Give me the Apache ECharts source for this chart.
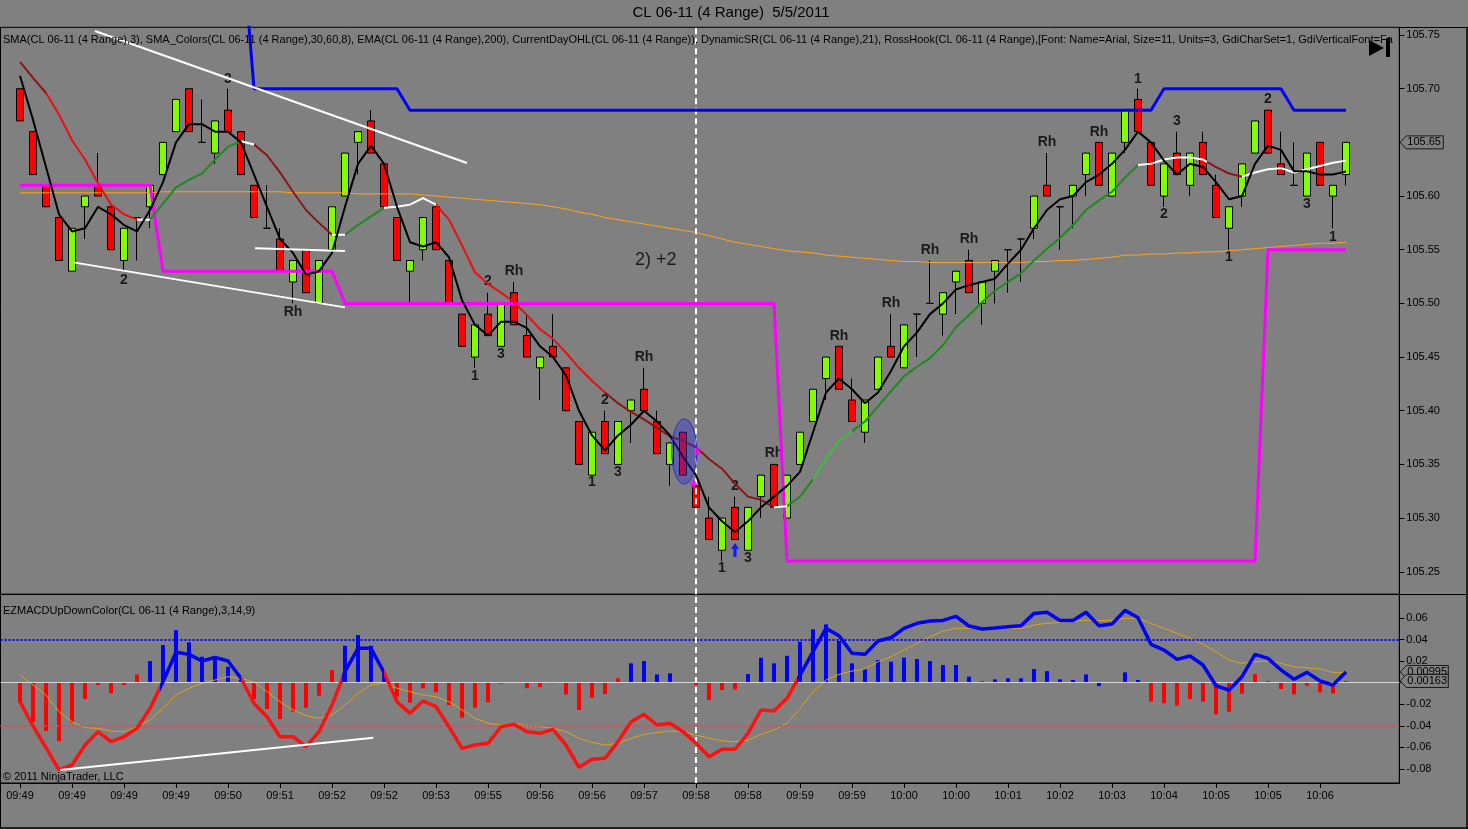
<!DOCTYPE html>
<html><head><meta charset="utf-8">
<script src="https://cdn.jsdelivr.net/npm/echarts@6/dist/echarts.min.js"></script>
<style>html,body{margin:0;padding:0;background:#808080;overflow:hidden}#c{width:1468px;height:829px}</style>
</head><body><div id="c"></div>
<script>
// ---------- data ----------
const tickLabels = ['09:49','09:49','09:49','09:49','09:50','09:51','09:52','09:52','09:53','09:55','09:56','09:56','09:57','09:58','09:58','09:59','09:59','10:00','10:00','10:01','10:02','10:03','10:04','10:05','10:05','10:06'];
const priceTicks = [105.25,105.30,105.35,105.40,105.45,105.50,105.55,105.60,105.65,105.70,105.75];
const macdTicks = [-0.08,-0.06,-0.04,-0.02,0,0.02,0.04,0.06];
const macdTickLabels = [-0.08,-0.06,-0.04,-0.02,0.02,0.04,0.06];

const opens = [105.70,105.66,105.61,105.58,105.53,105.59,105.61,105.59,105.54,105.58,
105.59,105.62,105.66,105.70,105.65,105.64,105.68,105.66,105.61,105.57,
105.56,105.52,105.55,105.50,105.55,105.60,105.65,105.67,105.63,105.58,
105.53,105.55,105.59,105.54,105.49,105.45,105.49,105.46,105.51,105.47,
105.44,105.46,105.44,105.39,105.34,105.39,105.35,105.40,105.42,105.39,
105.35,105.38,105.33,105.30,105.27,105.31,105.27,105.32,105.35,105.30,
105.35,105.39,105.43,105.46,105.41,105.38,105.42,105.46,105.44,105.49,
105.50,105.49,105.52,105.54,105.50,105.53,105.55,105.56,105.57,105.61,
105.59,105.60,105.62,105.65,105.60,105.65,105.69,105.65,105.60,105.64,
105.61,105.65,105.61,105.57,105.60,105.64,105.68,105.63,105.61,105.60,
105.65,105.60,105.62];
const closes = [105.67,105.62,105.59,105.54,105.57,105.60,105.60,105.55,105.57,105.58,
105.61,105.65,105.69,105.66,105.65,105.67,105.66,105.62,105.58,105.57,
105.53,105.54,105.51,105.54,105.59,105.64,105.66,105.64,105.59,105.54,
105.54,105.58,105.55,105.50,105.46,105.48,105.47,105.50,105.48,105.45,
105.45,105.45,105.40,105.35,105.38,105.36,105.39,105.41,105.40,105.36,
105.37,105.34,105.31,105.28,105.30,105.28,105.31,105.34,105.31,105.34,
105.38,105.42,105.45,105.42,105.39,105.41,105.45,105.45,105.48,105.49,
105.50,105.51,105.53,105.51,105.52,105.54,105.55,105.56,105.60,105.60,
105.59,105.61,105.64,105.61,105.64,105.68,105.66,105.61,105.63,105.62,
105.64,105.62,105.58,105.59,105.63,105.67,105.64,105.62,105.61,105.64,
105.61,105.61,105.65];
const lows = [105.67,105.62,105.59,105.54,105.53,105.56,105.60,105.55,105.53,105.54,
105.57,105.62,105.66,105.66,105.65,105.63,105.66,105.62,105.58,105.57,
105.53,105.50,105.51,105.50,105.55,105.60,105.62,105.64,105.59,105.54,
105.50,105.54,105.55,105.50,105.46,105.44,105.47,105.46,105.48,105.45,
105.41,105.45,105.40,105.35,105.34,105.36,105.35,105.37,105.40,105.36,
105.33,105.34,105.31,105.28,105.26,105.28,105.27,105.30,105.31,105.30,
105.35,105.39,105.41,105.42,105.39,105.37,105.42,105.45,105.44,105.45,
105.50,105.47,105.49,105.51,105.48,105.50,105.51,105.52,105.56,105.60,
105.55,105.57,105.60,105.61,105.60,105.64,105.66,105.61,105.59,105.62,
105.60,105.62,105.58,105.55,105.59,105.64,105.64,105.62,105.61,105.60,
105.61,105.57,105.61];
const highs = [105.70,105.66,105.61,105.58,105.57,105.60,105.64,105.59,105.57,105.58,
105.61,105.65,105.69,105.70,105.69,105.67,105.70,105.66,105.61,105.61,
105.57,105.54,105.55,105.54,105.59,105.64,105.66,105.68,105.63,105.58,
105.54,105.58,105.59,105.54,105.49,105.48,105.51,105.50,105.52,105.49,
105.45,105.49,105.44,105.39,105.38,105.40,105.39,105.41,105.44,105.40,
105.37,105.38,105.33,105.32,105.30,105.32,105.31,105.34,105.35,105.34,
105.38,105.42,105.45,105.46,105.43,105.41,105.45,105.49,105.48,105.49,
105.54,105.51,105.53,105.55,105.52,105.54,105.55,105.56,105.60,105.64,
105.59,105.61,105.64,105.65,105.64,105.68,105.70,105.65,105.63,105.66,
105.64,105.66,105.62,105.59,105.63,105.67,105.68,105.66,105.65,105.64,
105.65,105.61,105.65];

const sma3 = [105.712,105.671,105.627,105.583,105.567,105.570,105.590,105.583,105.573,105.567,
105.587,105.613,105.650,105.667,105.667,105.660,105.660,105.650,105.620,105.590,
105.560,105.547,105.527,105.530,105.547,105.590,105.630,105.647,105.630,105.590,
105.557,105.553,105.557,105.543,105.503,105.480,105.470,105.483,105.483,105.477,
105.460,105.450,105.433,105.400,105.377,105.363,105.377,105.387,105.400,105.390,
105.377,105.357,105.340,105.310,105.297,105.287,105.297,105.310,105.320,105.330,
105.343,105.380,105.417,105.430,105.420,105.407,105.417,105.437,105.460,105.473,
105.490,105.500,105.513,105.517,105.520,105.523,105.537,105.550,105.570,105.587,
105.597,105.600,105.613,105.620,105.630,105.643,105.660,105.650,105.633,105.620,
105.630,105.627,105.613,105.597,105.600,105.630,105.647,105.643,105.623,105.623,
105.620,105.620,105.623];

const smaColors = [105.725,105.710,105.696,105.676,105.652,105.634,105.612,105.592,105.583,105.578,
105.578,105.593,105.608,105.615,105.621,105.634,105.646,105.651,105.648,105.638,
105.622,105.604,105.587,105.575,105.564,105.564,105.573,105.581,105.589,105.590,
105.592,105.598,105.592,105.578,105.554,105.529,105.518,105.510,105.501,105.489,
105.476,105.467,105.454,105.440,105.428,105.417,105.407,105.399,105.392,105.384,
105.376,105.372,105.366,105.355,105.346,105.332,105.320,105.317,105.310,105.311,
105.320,105.336,105.355,105.372,105.381,105.390,105.404,105.418,105.432,105.441,
105.449,105.461,105.478,105.489,105.501,105.512,105.520,105.528,105.540,105.551,
105.561,105.573,105.587,105.596,105.604,105.617,105.629,105.630,105.634,105.636,
105.636,105.634,105.627,105.621,105.618,105.622,105.625,105.626,105.622,105.625,
105.628,105.631,105.633];

const ema200 = [105.603,105.603,105.603,105.603,105.603,105.603,105.603,105.603,105.603,105.603,
105.603,105.604,105.604,105.604,105.604,105.604,105.604,105.604,105.604,105.604,
105.604,105.603,105.603,105.603,105.603,105.603,105.602,105.602,105.602,105.602,
105.602,105.601,105.600,105.599,105.598,105.597,105.596,105.595,105.594,105.593,
105.592,105.590,105.588,105.585,105.583,105.580,105.578,105.576,105.574,105.572,
105.570,105.568,105.566,105.563,105.560,105.557,105.555,105.553,105.551,105.549,
105.548,105.547,105.545,105.544,105.543,105.542,105.541,105.540,105.539,105.539,
105.538,105.538,105.538,105.538,105.538,105.538,105.538,105.538,105.539,105.539,
105.540,105.540,105.541,105.542,105.543,105.545,105.545,105.546,105.546,105.547,
105.547,105.548,105.548,105.549,105.550,105.551,105.552,105.553,105.554,105.555,
105.556,105.556,105.557];

const resistance = [null,null,null,null,null,null,null,null,null,null,
null,null,null,null,null,null,null,105.85,105.70,105.70,
105.70,105.70,105.70,105.70,105.70,105.70,105.70,105.70,105.70,105.70,
105.68,105.68,105.68,105.68,105.68,105.68,105.68,105.68,105.68,105.68,
105.68,105.68,105.68,105.68,105.68,105.68,105.68,105.68,105.68,105.68,
105.68,105.68,105.68,105.68,105.68,105.68,105.68,105.68,105.68,105.68,
105.68,105.68,105.68,105.68,105.68,105.68,105.68,105.68,105.68,105.68,
105.68,105.68,105.68,105.68,105.68,105.68,105.68,105.68,105.68,105.68,
105.68,105.68,105.68,105.68,105.68,105.68,105.68,105.68,105.70,105.70,
105.70,105.70,105.70,105.70,105.70,105.70,105.70,105.70,105.68,105.68,
105.68,105.68,105.68];
const support = [105.61,105.61,105.61,105.61,105.61,105.61,105.61,105.61,105.61,105.61,
105.61,105.53,105.53,105.53,105.53,105.53,105.53,105.53,105.53,105.53,
105.53,105.53,105.53,105.53,105.53,105.50,105.50,105.50,105.50,105.50,
105.50,105.50,105.50,105.50,105.50,105.50,105.50,105.50,105.50,105.50,
105.50,105.50,105.50,105.50,105.50,105.50,105.50,105.50,105.50,105.50,
105.50,105.50,105.50,105.50,105.50,105.50,105.50,105.50,105.50,105.26,
105.26,105.26,105.26,105.26,105.26,105.26,105.26,105.26,105.26,105.26,
105.26,105.26,105.26,105.26,105.26,105.26,105.26,105.26,105.26,105.26,
105.26,105.26,105.26,105.26,105.26,105.26,105.26,105.26,105.26,105.26,
105.26,105.26,105.26,105.26,105.26,105.26,105.55,105.55,105.55,105.55,
105.55,105.55,105.55];

const macdLine = [-0.0176,-0.0401,-0.0603,-0.0809,-0.0763,-0.0578,-0.0454,-0.0547,-0.0501,-0.0423,
-0.0238,0.0009,0.0282,0.0263,0.0201,0.0235,0.0201,0.0041,-0.0191,-0.0315,
-0.0501,-0.0501,-0.0593,-0.0454,-0.0207,0.0102,0.0319,0.0319,0.0096,-0.0176,
-0.0284,-0.0170,-0.0222,-0.0408,-0.0609,-0.0578,-0.0562,-0.0408,-0.0386,-0.0454,
-0.0469,-0.0432,-0.0578,-0.0784,-0.0710,-0.0701,-0.0547,-0.0362,-0.0293,-0.0392,
-0.0376,-0.0454,-0.0562,-0.0686,-0.0617,-0.0617,-0.0469,-0.0253,-0.0262,-0.0145,
0.0071,0.0287,0.0504,0.0436,0.0273,0.0263,0.0387,0.0417,0.0504,0.0551,
0.0572,0.0578,0.0616,0.0526,0.0498,0.0507,0.0519,0.0528,0.0643,0.0653,
0.0578,0.0578,0.0653,0.0528,0.0544,0.0671,0.0603,0.0356,0.0303,0.0217,
0.0248,0.0164,-0.0028,-0.0068,0.0056,0.0263,0.0226,0.0118,0.0032,0.0096,
0.0016,-0.0021,0.00995];
const macdSignal = [0.0071,-0.0020,-0.0114,-0.0269,-0.0362,-0.0417,-0.0423,-0.0448,-0.0454,-0.0408,
-0.0346,-0.0238,-0.0114,-0.0052,-0.0006,0.0025,0.0056,0.0041,0.0006,-0.0083,
-0.0176,-0.0253,-0.0306,-0.0330,-0.0299,-0.0207,-0.0098,-0.0021,-0.0006,-0.0052,
-0.0083,-0.0114,-0.0130,-0.0176,-0.0253,-0.0330,-0.0376,-0.0392,-0.0376,-0.0401,
-0.0408,-0.0423,-0.0454,-0.0516,-0.0553,-0.0578,-0.0562,-0.0516,-0.0479,-0.0463,
-0.0448,-0.0454,-0.0485,-0.0516,-0.0538,-0.0547,-0.0532,-0.0479,-0.0439,-0.0376,
-0.0238,-0.0083,0.0025,0.0077,0.0108,0.0127,0.0195,0.0241,0.0303,0.0365,
0.0427,0.0479,0.0504,0.0504,0.0504,0.0498,0.0504,0.0504,0.0535,0.0551,
0.0560,0.0566,0.0581,0.0575,0.0581,0.0597,0.0597,0.0551,0.0504,0.0458,
0.0412,0.0356,0.0287,0.0210,0.0180,0.0195,0.0201,0.0180,0.0148,0.0139,
0.0127,0.0096,0.0096];
const macdHist = [-0.0180,-0.0362,-0.0448,-0.0541,-0.0371,-0.0151,-0.0021,-0.0098,-0.0021,0.0077,
0.0201,0.0349,0.0488,0.0374,0.0241,0.0241,0.0148,0.0025,-0.0151,-0.0244,
-0.0337,-0.0269,-0.0232,-0.0121,0.0118,0.0343,0.0442,0.0343,0.0087,-0.0130,
-0.0185,-0.0052,-0.0089,-0.0207,-0.0324,-0.0232,-0.0182,-0.0010,0,-0.0050,
-0.0040,-0.0005,-0.0108,-0.0253,-0.0139,-0.0105,0.0040,0.0180,0.0201,0.0077,
0.0087,0,-0.0020,-0.0161,-0.0068,-0.0062,0.0080,0.0232,0.0180,0.0250,
0.0380,0.0495,0.0541,0.0387,0.0180,0.0127,0.0210,0.0195,0.0232,0.0220,
0.0201,0.0164,0.0164,0.0056,0.0012,0.0031,0.0041,0.0041,0.0127,0.0108,
0.0031,0.0025,0.0077,-0.0031,0.0005,0.0096,0.0025,-0.0176,-0.0191,-0.0213,
-0.0151,-0.0176,-0.0293,-0.0269,-0.0102,0.0080,0.0016,-0.0058,-0.0108,-0.0028,
-0.0089,-0.0099,0.00163];
const histRising = [0,0,0,0,0,0,0,0,0,0,
1,1,1,1,1,1,1,1,0,0,
0,0,0,0,0,1,1,1,1,0,
0,0,0,0,0,0,0,0,0,0,
0,0,0,0,0,0,0,1,1,1,
1,0,0,0,0,0,1,1,1,1,
1,1,1,1,1,1,1,1,1,1,
1,1,1,1,1,1,1,1,1,1,
1,1,1,1,1,1,1,0,0,0,
0,0,0,0,0,0,0,0,0,0,
0,0,0];

// annotations (bar index, value)
const rossHookLabels = [[8,105.5217,'2'],[16,105.7090,'3'],[21,105.4922,'Rh'],[35,105.4323,'1'],[36,105.5211,'2'],
[37,105.4528,'3'],[38,105.5301,'Rh'],[44,105.3338,'1'],[45,105.4100,'2'],[46,105.3432,'3'],[48,105.4503,'Rh'],
[54,105.2532,'1'],[55,105.3298,'2'],[56,105.2630,'3'],[58,105.3609,'Rh'],[63,105.4699,'Rh'],[67,105.5000,'Rh'],
[70,105.5497,'Rh'],[73,105.5600,'Rh'],[79,105.6500,'Rh'],[83,105.6599,'Rh'],[86,105.7090,'1'],[88,105.5830,'2'],
[89,105.6702,'3'],[93,105.5429,'1'],[96,105.6901,'2'],[99,105.5923,'3'],[101,105.5621,'1']];
const tradeNote = [[48.9,105.5404,'2) +2']];
const priceTrendLines = [[[5.77,105.7537],[34.38,105.6308]],[[4.1,105.5382],[25.0,105.4963]],[[18.08,105.5513],[25.0,105.5488]]];
const macdTrendLine = [[3.08,-0.0809],[27.18,-0.0510]];
const ellipseMark = [[51.1,105.362,0.96,0.0303]];
const entryArrow = [[55,105.2702]];
const execMarks = [[52.1,105.362],[51.8,105.332]];
const cursorBar = 52;

// ---------- chart ----------
const FONT = "'Liberation Sans', Arial, sans-serif";
const X0 = -1.5, X1 = 106.1;
const idx = a => a.map((v, i) => [i, v]);
const tickPos = tickLabels.map((_, k) => k * 4);
const lastClose = closes[closes.length - 1];
const macdTags = [[102, macdLine[102], macdLine[102].toFixed(5)], [102, macdHist[102], macdHist[102].toFixed(5)]];

const RED = '#E81010', DRED = '#8B1515', GRN = '#1E8A1E', LGRN = '#3CC03C', WHT = '#FFFFFF';

function tagRender(labels, wBody) {
  return function (params, api) {
    const y = api.coord([0, api.value(1)])[1];
    const x = params.coordSys.x + params.coordSys.width;
    const t = labels[params.dataIndex];
    return {
      type: 'group', children: [
        { type: 'polygon', shape: { points: [[x + 1, y], [x + 7, y - 6.5], [x + wBody, y - 6.5], [x + wBody, y + 6.5], [x + 7, y + 6.5]] },
          style: { fill: '#808080', stroke: '#1a1a1a', lineWidth: 1 } },
        { type: 'text', x: x + 8, y: y, style: { text: t, fill: '#000', font: '11px ' + FONT, align: 'left', verticalAlign: 'middle', textAlign: 'left', textVerticalAlign: 'middle' } }
      ]
    };
  };
}

const series = [];
// 0 candles
series.push({ type: 'candlestick', xAxisIndex: 0, yAxisIndex: 0, barWidth: 7, z: 2,
  data: opens.map((o, i) => [i, o, closes[i], lows[i], highs[i]]), encode: { x: 0, y: [1, 2, 3, 4] },
  itemStyle: { color: '#80FF00', color0: '#FF0000', borderColor: '#000', borderColor0: '#000', borderColorDoji: '#000', borderWidth: 1 } });
// 1 EMA 200 (+ cursor dashed line)
series.push({ type: 'line', xAxisIndex: 0, yAxisIndex: 0, data: idx(ema200), symbol: 'none', z: 3,
  lineStyle: { color: '#FFA31A', width: 1 },
  markLine: { silent: true, symbol: 'none', label: { show: false }, lineStyle: { color: '#FFFFFF', width: 2, type: [6, 4] }, data: [{ xAxis: cursorBar }] } });
// 2 support
series.push({ type: 'line', xAxisIndex: 0, yAxisIndex: 0, data: idx(support), symbol: 'none', z: 5, lineStyle: { color: '#FF00FF', width: 3 } });
// 3 resistance
series.push({ type: 'line', xAxisIndex: 0, yAxisIndex: 0, data: idx(resistance), symbol: 'none', z: 5, lineStyle: { color: '#0000FF', width: 3 } });
// 4 SMA colors
series.push({ type: 'line', xAxisIndex: 0, yAxisIndex: 0, data: idx(smaColors), symbol: 'none', z: 5, lineStyle: { width: 2 } });
// 5 SMA 3
series.push({ type: 'line', xAxisIndex: 0, yAxisIndex: 0, data: idx(sma3), symbol: 'none', z: 6, lineStyle: { color: '#000', width: 2 } });
// trendlines
priceTrendLines.forEach(tl => series.push({ type: 'line', xAxisIndex: 0, yAxisIndex: 0, data: tl, symbol: 'none', z: 6, lineStyle: { color: '#FFFFFF', width: 2 } }));
// labels
series.push({ type: 'scatter', xAxisIndex: 0, yAxisIndex: 0, data: rossHookLabels, symbolSize: 1, z: 4, itemStyle: { color: 'transparent' },
  label: { show: true, position: 'inside', formatter: p => p.value[2], color: '#000', fontSize: 14, fontWeight: 'bold', fontFamily: FONT } });
series.push({ type: 'scatter', xAxisIndex: 0, yAxisIndex: 0, data: tradeNote, symbolSize: 1, z: 4, itemStyle: { color: 'transparent' },
  label: { show: true, position: 'inside', formatter: p => p.value[2], color: '#000', fontSize: 18, fontFamily: FONT } });
// ellipse
series.push({ type: 'custom', xAxisIndex: 0, yAxisIndex: 0, data: ellipseMark, z: 7,
  renderItem: (params, api) => {
    const c = api.coord([api.value(0), api.value(1)]);
    const s = api.size([api.value(2), api.value(3)]);
    return { type: 'ellipse', shape: { cx: c[0], cy: c[1], rx: s[0], ry: s[1] }, style: { fill: 'rgba(45,45,225,0.38)', stroke: '#2A2AD0', lineWidth: 1 } };
  } });
// entry arrow
series.push({ type: 'scatter', xAxisIndex: 0, yAxisIndex: 0, data: entryArrow, z: 7,
  symbol: 'path://M5,0 L10,6 L7,6 L7,14 L3,14 L3,6 L0,6 Z', symbolSize: [8, 14], itemStyle: { color: '#0000FF' } });
series.push({ type: 'scatter', xAxisIndex: 0, yAxisIndex: 0, data: execMarks, z: 7, symbol: 'diamond', symbolSize: [7, 10], itemStyle: { color: '#FF00FF' } });
// price tag
series.push({ type: 'custom', xAxisIndex: 0, yAxisIndex: 0, data: [[102, lastClose]], z: 20, clip: false,
  renderItem: tagRender([lastClose.toFixed(2)], 44) });

// MACD panel
series.push({ type: 'bar', xAxisIndex: 1, yAxisIndex: 1, barWidth: 4, z: 3,
  data: macdHist.map((v, i) => ({ value: [i, v], itemStyle: { color: histRising[i] ? '#0000FF' : '#FF0000' } })) });
series.push({ type: 'line', xAxisIndex: 1, yAxisIndex: 1, data: idx(macdSignal), symbol: 'none', z: 4, lineStyle: { color: '#DAA520', width: 1 },
  markLine: { silent: true, symbol: 'none', label: { show: false }, data: [
    { yAxis: 0, lineStyle: { color: '#D6D6D6', width: 1, type: 'solid' } },
    { yAxis: 0.04, lineStyle: { color: '#0000FF', width: 2, type: 'dotted' } },
    { yAxis: -0.04, lineStyle: { color: '#E8405A', width: 2, type: 'dotted' } },
    { xAxis: cursorBar, lineStyle: { color: '#FFFFFF', width: 2, type: [6, 4] } }
  ] } });
const macdLineIndex = series.length;
series.push({ type: 'line', xAxisIndex: 1, yAxisIndex: 1, data: idx(macdLine), symbol: 'none', z: 5, lineStyle: { width: 3.5 } });
series.push({ type: 'line', xAxisIndex: 1, yAxisIndex: 1, data: macdTrendLine, symbol: 'none', z: 6, lineStyle: { color: '#FFFFFF', width: 2 } });
series.push({ type: 'custom', xAxisIndex: 1, yAxisIndex: 1, data: macdTags.map(t => [t[0], t[1]]), z: 20, clip: false,
  renderItem: tagRender(macdTags.map(t => t[2]), 49) });

const axisText = { color: '#000', fontSize: 11, fontFamily: FONT };

const option = {
  animation: false,
  backgroundColor: '#808080',
  textStyle: { fontFamily: FONT },
  grid: [
    { left: 0.5, top: 27.3, width: 1398.8, height: 567, show: true, borderColor: '#000', borderWidth: 1, backgroundColor: 'transparent', containLabel: false, outerBoundsMode: 'none' },
    { left: 0.5, top: 594.3, width: 1398.8, height: 188.7, show: true, borderColor: '#000', borderWidth: 1, backgroundColor: 'transparent', containLabel: false, outerBoundsMode: 'none' }
  ],
  xAxis: [
    { type: 'value', gridIndex: 0, min: X0, max: X1, show: false, axisLine: { onZero: false } },
    { type: 'value', gridIndex: 1, min: X0, max: X1, position: 'bottom', splitLine: { show: false },
      axisLine: { show: true, onZero: false, lineStyle: { color: '#000', width: 1 } },
      axisTick: { show: true, customValues: tickPos, length: 5, lineStyle: { color: '#000' } },
      axisLabel: Object.assign({ customValues: tickPos, margin: 7, formatter: v => tickLabels[Math.round(v / 4)] || '' }, axisText) }
  ],
  yAxis: [
    { type: 'value', gridIndex: 0, position: 'right', min: 105.2290, max: 105.7572, splitLine: { show: false },
      axisLine: { show: true, onZero: false, lineStyle: { color: '#000' } },
      axisTick: { show: true, customValues: priceTicks, length: 5, lineStyle: { color: '#000' } },
      axisLabel: Object.assign({ customValues: priceTicks, margin: 7, formatter: v => v.toFixed(2) }, axisText) },
    { type: 'value', gridIndex: 1, position: 'right', min: -0.093, max: 0.082, splitLine: { show: false },
      axisLine: { show: true, onZero: false, lineStyle: { color: '#000' } },
      axisTick: { show: true, customValues: macdTicks, length: 5, lineStyle: { color: '#000' } },
      axisLabel: Object.assign({ customValues: macdTickLabels, margin: 7, formatter: v => v.toFixed(2) }, axisText) }
  ],
  visualMap: [
    { type: 'piecewise', show: false, seriesIndex: 4, dimension: 0, pieces: [
      { gte: -5, lt: 2, color: DRED }, { gte: 2, lt: 9, color: RED }, { gte: 9, lt: 10, color: WHT }, { gte: 10, lt: 17, color: GRN },
      { gte: 17, lt: 18, color: WHT }, { gte: 18, lt: 24, color: DRED }, { gte: 24, lt: 25, color: WHT }, { gte: 25, lt: 28, color: GRN },
      { gte: 28, lt: 32, color: WHT }, { gte: 32, lt: 45, color: RED }, { gte: 45, lt: 58, color: DRED }, { gte: 58, lt: 59, color: WHT },
      { gte: 59, lt: 61, color: GRN }, { gte: 61, lt: 64, color: LGRN }, { gte: 64, lt: 86, color: GRN }, { gte: 86, lt: 91.3, color: WHT },
      { gte: 91.3, lt: 94, color: DRED }, { gte: 94, lt: 120, color: WHT } ] },
    { type: 'piecewise', show: false, seriesIndex: macdLineIndex, dimension: 0, pieces: [
      { gte: -5, lt: 10.8, color: '#FF1010' }, { gte: 10.8, lt: 17, color: '#0000F0' }, { gte: 17, lt: 24.8, color: '#FF1010' },
      { gte: 24.8, lt: 28, color: '#0000F0' }, { gte: 28, lt: 59.8, color: '#FF1010' }, { gte: 59.8, lt: 120, color: '#0000F0' } ] }
  ],
  graphic: [
    { type: 'text', x: 731, y: 13, silent: true, style: { text: 'CL 06-11 (4 Range)  5/5/2011', font: '15px ' + FONT, fill: '#000', align: 'center', verticalAlign: 'middle', textAlign: 'center', textVerticalAlign: 'middle' } },
    { type: 'text', x: 3, y: 40, silent: true, z: 50, style: { text: 'SMA(CL 06-11 (4 Range),3), SMA_Colors(CL 06-11 (4 Range),30,60,8), EMA(CL 06-11 (4 Range),200), CurrentDayOHL(CL 06-11 (4 Range)), DynamicSR(CL 06-11 (4 Range),21), RossHook(CL 06-11 (4 Range),[Font: Name=Arial, Size=11, Units=3, GdiCharSet=1, GdiVerticalFont=Fa', width: 1394, overflow: 'truncate', ellipsis: '', font: '11px ' + FONT, fill: '#000', align: 'left', verticalAlign: 'middle', textAlign: 'left', textVerticalAlign: 'middle' } },
    { type: 'text', x: 3, y: 611, silent: true, z: 50, style: { text: 'EZMACDUpDownColor(CL 06-11 (4 Range),3,14,9)', font: '11px ' + FONT, fill: '#000', align: 'left', verticalAlign: 'middle', textAlign: 'left', textVerticalAlign: 'middle' } },
    { type: 'text', x: 3, y: 777, silent: true, z: 50, style: { text: '© 2011 NinjaTrader, LLC', font: '11px ' + FONT, fill: '#000', align: 'left', verticalAlign: 'middle', textAlign: 'left', textVerticalAlign: 'middle' } },
    { type: 'polygon', silent: true, z: 50, shape: { points: [[1369, 40], [1369, 56], [1384, 48]] }, style: { fill: '#000' } },
    { type: 'rect', silent: true, z: 50, shape: { x: 1386, y: 38, width: 4, height: 19 }, style: { fill: '#000' } },
    { type: 'line', silent: true, z: 50, shape: { x1: 1399, y1: 27.5, x2: 1468, y2: 27.5 }, style: { stroke: '#000', lineWidth: 1 } },
    { type: 'line', silent: true, z: 50, shape: { x1: 1399, y1: 594.5, x2: 1468, y2: 594.5 }, style: { stroke: '#000', lineWidth: 1 } },
    { type: 'line', silent: true, z: 50, shape: { x1: 0, y1: 828, x2: 1468, y2: 828 }, style: { stroke: '#000', lineWidth: 1.5 } },
    { type: 'line', silent: true, z: 50, shape: { x1: 1467, y1: 27, x2: 1467, y2: 829 }, style: { stroke: '#000', lineWidth: 1.5 } },
    { type: 'line', silent: true, z: 50, shape: { x1: 0.5, y1: 783, x2: 0.5, y2: 829 }, style: { stroke: '#000', lineWidth: 1 } }
  ],
  series: series
};

const chart = echarts.init(document.getElementById('c'), null, { renderer: 'canvas', width: 1468, height: 829 });
chart.setOption(option);
</script>
</body></html>
